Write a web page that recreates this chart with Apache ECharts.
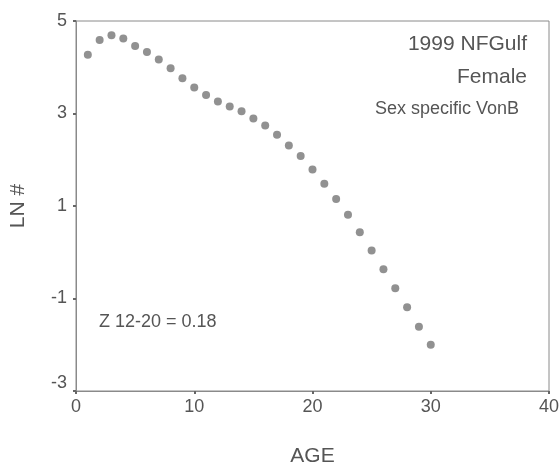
<!DOCTYPE html>
<html><head><meta charset="utf-8">
<script src="https://cdn.jsdelivr.net/npm/echarts@6/dist/echarts.min.js"></script>
<style>html,body{margin:0;padding:0;background:#fff}#c{width:559px;height:470px}</style>
</head><body><div id="c"></div>
<script>
const ages = [1,2,3,4,5,6,7,8,9,10,11,12,13,14,15,16,17,18,19,20,21,22,23,24,25,26,27,28,29,30];
const lnN = [4.27,4.59,4.69,4.62,4.46,4.33,4.17,3.98,3.76,3.56,3.40,3.26,3.15,3.05,2.89,2.74,2.54,2.31,2.08,1.79,1.48,1.15,0.81,0.43,0.04,-0.37,-0.78,-1.19,-1.61,-2.00];
const titleLines = ["1999 NFGulf","Female"];
const subtitle = "Sex specific VonB";
const note = "Z 12-20 = 0.18";
const xName = "AGE", yName = "LN #";

const chart = echarts.init(document.getElementById('c'), null, {renderer:'canvas'});
const font = 'Liberation Sans, Arial, sans-serif';
const axisStyle = {
  axisLine:{show:true,onZero:false,lineStyle:{color:'#8a8a8a',width:1}},
  axisTick:{show:true,length:3,lineStyle:{color:'#666',width:2}},
  splitLine:{show:false}
};
chart.setOption({
  animation:false,
  backgroundColor:'#fff',
  grid:{left:76,right:10,top:21,bottom:79,show:true,borderColor:'#8a8a8a',borderWidth:1,
    containLabel:false,outerBoundsMode:'none'},
  xAxis:Object.assign({type:'value',min:0,max:40,interval:10,
    name:xName,nameLocation:'middle',nameGap:55,
    nameTextStyle:{color:'#555',fontSize:21,fontFamily:font}},axisStyle,
    {axisLabel:{color:'#555',fontSize:18,fontFamily:font,margin:7}}),
  yAxis:Object.assign({type:'value',min:-3,max:5,interval:2,
    name:yName,nameLocation:'middle',nameGap:47,
    nameTextStyle:{color:'#555',fontSize:21,fontFamily:font}},axisStyle,
    {axisLabel:{color:'#555',fontSize:18,fontFamily:font,margin:9,
      formatter:v=>v===-3?'{lo|-3}':String(v),
      rich:{lo:{color:'#555',fontSize:18,fontFamily:font,padding:[0,0,16,0]}}}}),
  series:[{type:'scatter',data:ages.map((a,i)=>[a,lnN[i]]),symbol:'circle',symbolSize:8,
    itemStyle:{color:'#767676'}}],
  graphic:[
    {type:'text',right:32,top:34,style:{text:titleLines[0],font:'21px '+font,fill:'#555',textAlign:'right'}},
    {type:'text',right:32,top:67,style:{text:titleLines[1],font:'21px '+font,fill:'#555',textAlign:'right'}},
    {type:'text',right:40,top:100,style:{text:subtitle,font:'18px '+font,fill:'#555',textAlign:'right'}},
    {type:'text',left:99,top:313,style:{text:note,font:'18px '+font,fill:'#555'}}
  ]
});
</script></body></html>
